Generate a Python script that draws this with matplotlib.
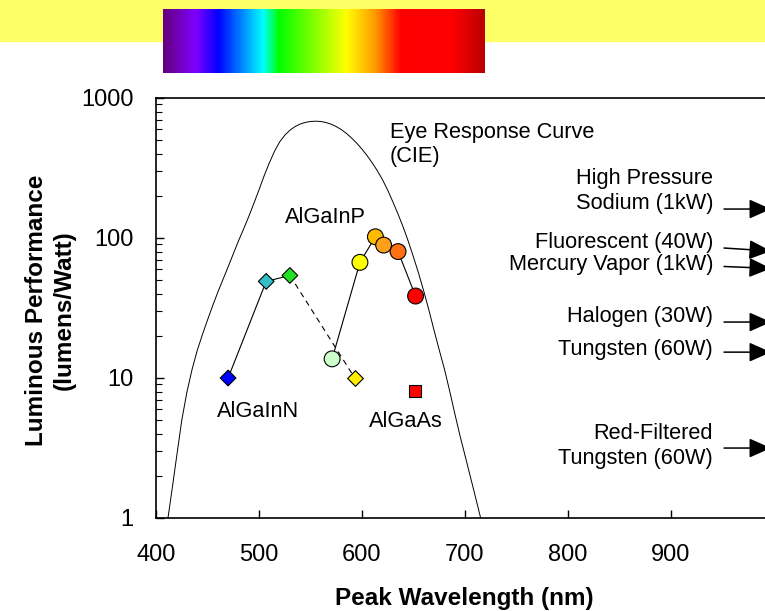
import numpy as np
import matplotlib
matplotlib.use('Agg')
import matplotlib.pyplot as plt
from matplotlib.colors import LinearSegmentedColormap
from matplotlib.patches import Rectangle

plt.rcParams['font.family'] = ['Liberation Sans', 'DejaVu Sans']

#=============================Data=============================================
# CIE photopic eye response V(lambda), 5 nm steps, scaled by 683 lm/W
cie_wl = np.arange(400, 735, 5)
cie_v = [0.000396, 0.00064, 0.00121, 0.00218, 0.004, 0.0073, 0.0116, 0.01684,
         0.023, 0.0298, 0.038, 0.048, 0.06, 0.0739, 0.09098, 0.1126, 0.13902,
         0.1693, 0.20802, 0.2586, 0.323, 0.4073, 0.503, 0.6082, 0.71, 0.7932,
         0.862, 0.91485, 0.954, 0.9803, 0.99495, 1.0, 0.995, 0.9786, 0.952,
         0.9154, 0.87, 0.8163, 0.757, 0.6949, 0.631, 0.5668, 0.503, 0.4412,
         0.381, 0.321, 0.265, 0.217, 0.175, 0.1382, 0.107, 0.0816, 0.061,
         0.04458, 0.032, 0.0232, 0.017, 0.01192, 0.00821, 0.005723, 0.004102,
         0.002929, 0.002091, 0.001484, 0.001047, 0.00074, 0.00052]
eye_lm = 683 * np.array(cie_v)

# AlGaInN diamonds
ingan_wl = [470, 507, 530]
ingan_lm = [10, 49, 54]
ingan_col = ['#0000ff', '#33bfc8', '#22e022']
ingan_dash_wl = [530, 593]
ingan_dash_lm = [54, 10]
ingan_y_col = '#ffee00'

# AlGaInP circles
algainp_wl = [571, 598, 613, 621, 635, 652]
algainp_lm = [13.7, 67, 102, 89, 80, 38.5]
algainp_col = ['#ccffcc', '#ffff00', '#ffbb00', '#ff9f1a', '#ff7010', '#ff0000']

# AlGaAs square
algaas_wl = [651]
algaas_lm = [8.1]

# conventional lamps (arrow tips on the right)
lamp_names = ['High Pressure\nSodium (1kW)', 'Fluorescent (40W)',
              'Mercury Vapor (1kW)', 'Halogen (30W)', 'Tungsten (60W)',
              'Red-Filtered\nTungsten (60W)']
lamp_lm = [161, 80.7, 60.6, 25.1, 15.3, 3.16]
lamp_tail = [161, 84.8, 62.6, 25.1, 15.3, 3.16]
lamp_text_y = [218, 93.6, 64.2, 27.3, 16.1, 3.27]

xticks = [400, 500, 600, 700, 800, 900]
yticks = [1, 10, 100, 1000]
#==============================================================================

fig = plt.figure(figsize=(7.65, 6.11), dpi=100)

# yellow band + spectrum strip
fig.add_artist(Rectangle((0, (611 - 41) / 611), 1, 41 / 611,
                         transform=fig.transFigure, color='#ffff66', zorder=0))
spec = LinearSegmentedColormap.from_list('spec', [
    (0.0, '#660080'), (0.10, '#7f00ff'), (0.17, '#0000ff'), (0.31, '#00ffff'),
    (0.36, '#00ff00'), (0.57, '#ffff00'), (0.66, '#ff9900'), (0.74, '#ff0000'),
    (0.90, '#ff0000'), (1.0, '#bb0000')])
sax = fig.add_axes([163 / 765, (611 - 73) / 611, 322 / 765, 64 / 611])
sax.imshow(np.linspace(0, 1, 400)[None, :], cmap=spec, aspect='auto')
sax.axis('off')

ax = fig.add_axes([156 / 765, 93 / 611, 618 / 765, 420 / 611])
ax.set_yscale('log')
ax.set_xlim(400, 1000)
ax.set_ylim(1, 1000)

ax.plot(cie_wl, eye_lm, color='black', lw=0.7, zorder=1)

ax.plot(ingan_wl, ingan_lm, color='black', lw=0.8, zorder=2)
ax.plot(ingan_dash_wl, ingan_dash_lm, color='black', lw=0.8,
        ls=(0, (5, 4)), zorder=2)
ax.plot(algainp_wl, algainp_lm, color='black', lw=0.8, zorder=2)

ax.scatter(ingan_wl, ingan_lm, marker='D', s=64, c=ingan_col,
           edgecolors='black', linewidths=0.8, zorder=3)
ax.scatter(ingan_dash_wl[1:], ingan_dash_lm[1:], marker='D', s=64,
           c=ingan_y_col, edgecolors='black', linewidths=0.8, zorder=3)
ax.scatter(algainp_wl, algainp_lm, marker='o', s=130, c=algainp_col,
           edgecolors='black', linewidths=0.8, zorder=3)
ax.scatter(algaas_wl, algaas_lm, marker='s', s=85, c='#ff0000',
           edgecolors='black', linewidths=0.8, zorder=3)

fs = 15.7
ax.text(499, 5.8, 'AlGaInN', ha='center', va='center', fontsize=fs)
ax.text(643, 4.93, 'AlGaAs', ha='center', va='center', fontsize=fs)
ax.text(564, 141, 'AlGaInP', ha='center', va='center', fontsize=fs)
ax.text(627, 465, 'Eye Response Curve\n(CIE)', ha='left', va='center',
        fontsize=fs, linespacing=1.2)

for name, tip, tail, ty in zip(lamp_names, lamp_lm, lamp_tail, lamp_text_y):
    ax.text(940.8, ty, name, ha='right', va='center', fontsize=fs,
            multialignment='right', linespacing=1.25)
    ax.annotate('', xy=(997, tip), xytext=(951.5, tail),
                arrowprops=dict(arrowstyle='-|>,head_length=0.9,head_width=0.4',
                                mutation_scale=15, color='black', lw=1.1,
                                shrinkA=0, shrinkB=0))

ax.set_xticks(xticks, labels=[str(v) for v in xticks])
ax.set_yticks(yticks, labels=[str(v) for v in yticks])
ax.tick_params(axis='both', which='major', direction='in', labelsize=17,
               width=1, length=6)
ax.tick_params(axis='x', pad=19)
ax.tick_params(axis='y', pad=16)
ax.tick_params(axis='y', which='minor', direction='in', length=4, width=0.8)
ax.spines['right'].set_visible(False)
for s in ['left', 'bottom', 'top']:
    ax.spines[s].set_linewidth(1.2)

fig.text(464 / 765, (611 - 599) / 611, 'Peak Wavelength (nm)', ha='center',
         va='center', fontsize=17.5, fontweight='bold')
fig.text(50.5 / 765, (611 - 310) / 611, 'Luminous Performance\n(lumens/Watt)',
         ha='center', va='center', rotation=90, fontsize=17.5,
         fontweight='bold', multialignment='center', linespacing=1.3)

fig.savefig('out.png', dpi=100)
